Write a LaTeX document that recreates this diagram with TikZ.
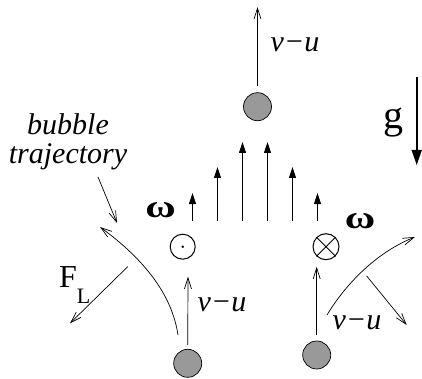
\documentclass[tikz,border=0pt]{standalone}
\usepackage{fontspec}
\setmainfont{Liberation Serif}
\usetikzlibrary{arrows.meta}
\definecolor{bubblegray}{HTML}{999999}

\begin{document}
\begin{tikzpicture}[x=1pt, y=-1pt,
  bubble/.style={circle, draw, line width=0.7pt, fill=bubblegray, minimum size=28pt, inner sep=0pt},
  vort/.style={circle, draw, line width=1pt, inner sep=0pt},
  open/.style={-{Straight Barb[length=11pt, width=7pt]}, line width=0.7pt},
  flow/.style={-{Triangle[length=11pt, width=7pt]}, line width=0.8pt},
  lbl/.style={font=\fontsize{30}{29}\selectfont\itshape, inner sep=0pt},
  sym/.style={font=\fontsize{32}{32}\selectfont\bfseries, inner sep=0pt},
  rm/.style={font=\fontsize{32}{32}\selectfont, inner sep=0pt},
]
\useasboundingbox (0,0) rectangle (422,379);

\node[bubble] (b0) at (257.5,106.7) {};
\node[bubble] (b1) at (187.7,363.3) {};
\node[bubble] (b2) at (316.7,355) {};

\node[vort, minimum size=25pt] (od) at (182.7,246.7) {};
\fill (od.center) circle (1.4pt);
\node[vort, minimum size=26pt] (ot) at (326,246.7) {};
\draw[line width=0.8pt] (ot.45) -- (ot.225) (ot.135) -- (ot.-45);

\node[sym] (w1) at (160.5,210) {\scalebox{1.3}[1]{ω}};
\node[sym] (w2) at (360,221.5) {\scalebox{1.3}[1]{ω}};

\coordinate (t0) at (257.5,7);
\draw[open, shorten <=6pt] (b0.north) -- (t0);
\node[lbl] (u0) at (295,45) {v−u};

\coordinate (g1) at (416.7,77);
\coordinate (g2) at (416.7,165);
\draw[-{Triangle[length=15pt, width=10pt]}, line width=1.6pt] (g1) -- (g2);
\node[rm, font=\fontsize{40}{40}\selectfont] (g) at (393,122.5) {g};

\foreach \i/\x/\t in {1/192.5/193, 2/217.5/167, 3/242.5/142, 4/267.5/142, 5/292.5/167, 6/317.5/193} {
  \coordinate (p\i) at (\x,221);
  \coordinate (q\i) at (\x,\t);
  \draw[flow] (p\i) -- (q\i);
}

\coordinate (a1) at (188,276.7);
\draw[open, shorten <=4pt] (b1.north) -- (a1);
\node[lbl] (u1) at (222,305) {v−u};
\coordinate (a2) at (316.7,266.7);
\draw[open, shorten <=6pt] (b2.north) -- (a2);
\node[lbl] (u2) at (357,323) {v−u};

\coordinate (l0) at (178,335);
\coordinate (l1) at (100,227);
\draw[open] (l0) .. controls (172,295) and (145,260) .. (l1);
\coordinate (r0) at (327,315);
\coordinate (r1) at (415,237);
\draw[open] (r0) .. controls (340,293) and (370,255) .. (r1);

\coordinate (f0) at (127.7,266.7);
\coordinate (f1) at (70,323.3);
\draw[open] (f0) -- (f1);
\node[rm, anchor=base west] (fl) at (59,287) {F\lower16pt\hbox{\fontsize{22}{22}\selectfont L}};
\coordinate (f2) at (366.7,276);
\coordinate (f3) at (406.7,325);
\draw[open] (f2) -- (f3);

\node[lbl, align=center] (traj) at (68,142) {bubble\\trajectory};
\coordinate (k0) at (98,177);
\coordinate (k1) at (117,223);
\draw[open] (k0) -- (k1);
\end{tikzpicture}
\end{document}
